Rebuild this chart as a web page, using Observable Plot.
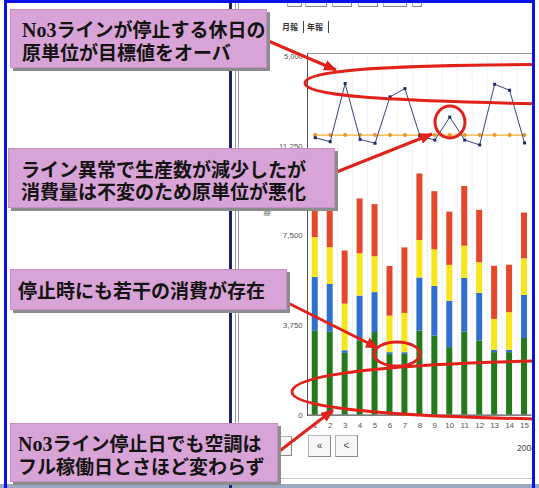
<!DOCTYPE html>
<html><head><meta charset="utf-8">
<script src="https://cdn.jsdelivr.net/npm/d3@7"></script>
<script src="https://cdn.jsdelivr.net/npm/@observablehq/plot@0.6"></script>
<style>
html,body{margin:0;padding:0;background:#fff;}
#page{position:relative;width:539px;height:488px;overflow:hidden;background:#fff;font-family:"Liberation Sans",Arial,sans-serif;}
#panel{position:absolute;left:240px;top:0;width:292px;height:488px;overflow:hidden;background:#fff;}
#panel svg{position:absolute;left:0;top:0;}
.callout{position:absolute;background:#d8a3d6;box-shadow:3px 3px 0 #8c8c8c;color:#141414;font-family:"Noto Sans CJK JP",sans-serif;font-weight:700;font-size:19px;line-height:22px;white-space:nowrap;box-sizing:border-box;border:1px solid #c48fc2;}
.callout .en{font-family:"Liberation Serif",serif;font-weight:700;font-size:20px;}
.btn{position:absolute;border:1px solid #b5b5b5;border-right-color:#888;border-bottom-color:#888;background:#f7f7f7;box-sizing:border-box;font-size:10px;color:#444;text-align:center;}
</style></head>
<body><div id="page">
<div id="panel"></div>
</div>
<script>
// ---- data ----
const days = [1,2,3,4,5,6,7,8,9,10,11,12,13,14,15];
const seriesNames = ["空調","No3ライン","No2ライン","No1ライン"];
const seriesColors = ["#237a1d","#2f6fce","#f6e61b","#e5472a"];
const greenVals  = [3500,3460,2580,3100,3450,2540,2540,3510,3300,2820,3470,3100,2610,2610,3200];
const blueVals   = [2250,2000, 110,1875,1670,  70,  70,2220,2080,1940,2240,1990, 100, 100,1800];
const yellowVals = [1670,1540,1950,1770,1500,1525,1640,1570,1530,1500,1350,1280,1290,1570,1530];
const redVals    = [1900,2000,2220,2290,2180,2080,2740,2780,2430,2225,2500,2190,2220,1985,1920];
const unitVals   = [460,240,3480,370,150,2740,3200,560,330,1610,330,60,3440,3110,170];
const targetVals = [610,610,610,610,610,610,610,610,610,610,610,610,610,610,610];
const barTicks = [0,3750,7500,11250];
const lineTicks = [5000];
const tabLabels = ["月報","年報"];
const yTitle = "電力(kWh)";
const dateLabel = "2008年1月";

const seriesValues = [greenVals, blueVals, yellowVals, redVals];
const rows = days.flatMap((d,i)=>seriesNames.map((s,k)=>({day:d, series:s, value:seriesValues[k][i]})));
const unitRows = days.map((d,i)=>({day:d, v:unitVals[i]}));
const targetRows = days.map((d,i)=>({day:d, v:targetVals[i]}));

const panel = document.getElementById("panel");
const page = document.getElementById("page");
const baseStyle = {background:"transparent", fontFamily:"Liberation Sans, Arial, sans-serif", fontSize:"7.5px", color:"#555", overflow:"visible"};

// bar chart
const barPlot = Plot.plot({
  width:293, height:440, marginLeft:67.5, marginRight:0.5, marginTop:146, marginBottom:24,
  style:{...baseStyle, fontSize:"8px"},
  x:{type:"band", domain:days, paddingInner:0.6, paddingOuter:0.3, tickSize:0, tickPadding:7, label:null},
  y:{domain:[0,11250], ticks:barTicks, tickSize:0, tickPadding:5, label:null},
  color:{domain:seriesNames, range:seriesColors},
  marks:[
    Plot.ruleX(days, {dx:7.5, stroke:"#e2e2e2", strokeDasharray:"1,1"}),
    Plot.barY(rows, {x:"day", y:"value", fill:"series"}),
    Plot.ruleY([0], {stroke:"#555", strokeWidth:1.2})
  ]
});
panel.appendChild(barPlot);

// line chart
const linePlot = Plot.plot({
  width:293, height:150, marginLeft:67.5, marginRight:0.5, marginTop:56, marginBottom:4,
  style:baseStyle,
  x:{type:"point", domain:days, padding:0.5, axis:null},
  y:{domain:[0,5000], ticks:lineTicks, tickSize:0, tickPadding:5, label:null},
  marks:[
    Plot.ruleX(days, {dx:7.5, stroke:"#e6e6e6", strokeDasharray:"1,1"}),
    Plot.line(targetRows, {x:"day", y:"v", stroke:"#f2b134", strokeWidth:1.3}),
    Plot.dot(targetRows, {x:"day", y:"v", fill:"#e8962a", r:2}),
    Plot.line(unitRows, {x:"day", y:"v", stroke:"#34447e", strokeWidth:1}),
    Plot.dot(unitRows, {x:"day", y:"v", fill:"#1c2a66", symbol:"square", r:1.7})
  ]
});
panel.appendChild(linePlot);

function el(parent, cls, css, html){
  const e=document.createElement("div"); if(cls) e.className=cls;
  e.style.cssText="position:absolute;"+css; if(html!=null) e.innerHTML=html; parent.appendChild(e); return e;
}
// panel decorations (coords relative to panel, x offset 240)
el(panel,"","left:67px;top:53px;width:225px;height:1px;background:#9a9a9a;");
el(panel,"","left:67px;top:53px;width:1px;height:363px;background:#555;");
[[47,15],[65,22],[92,20],[118,20],[143,24],[172,10]].forEach(([l,w])=>el(panel,"btn",`left:${l}px;top:-3px;width:${w}px;height:10px;`));
el(panel,"",`left:42px;top:21px;font:bold 8px 'Noto Sans CJK JP',sans-serif;color:#333;`,tabLabels[0]);
el(panel,"","left:63px;top:21px;width:1px;height:12px;background:#444;");
el(panel,"",`left:67px;top:21px;font:bold 8px 'Noto Sans CJK JP',sans-serif;color:#333;`,tabLabels[1]);
el(panel,"","left:88px;top:21px;width:1px;height:12px;background:#444;");
el(panel,"",`left:14px;top:200px;width:24px;text-align:center;transform:rotate(-90deg);font:6px 'Noto Sans CJK JP',sans-serif;color:#555;white-space:nowrap;`,yTitle);
el(panel,"btn","left:36px;top:436px;width:16px;height:20px;line-height:18px;","");
el(panel,"btn","left:68px;top:435px;width:23px;height:22px;line-height:20px;","&laquo;");
el(panel,"btn","left:95px;top:435px;width:23px;height:22px;line-height:20px;","&lt;");
el(panel,"",`left:277px;top:443px;font:8.5px 'Liberation Sans',sans-serif;color:#444;white-space:nowrap;`,dateLabel);
el(panel,"","left:0;top:478px;width:292px;height:1px;background:#c8c8c8;");

// red annotations
const NS="http://www.w3.org/2000/svg";
const ov=document.createElementNS(NS,"svg");
ov.setAttribute("width",535); ov.setAttribute("height",488);
ov.style.cssText="position:absolute;left:0;top:0;overflow:hidden;";
ov.innerHTML=`<defs><marker id="ah" markerUnits="userSpaceOnUse" markerWidth="14" markerHeight="11" refX="12" refY="5.5" orient="auto"><path d="M0,0 L13,5.5 L0,11 Z" fill="#e1221b"/></marker></defs>
<g fill="none" stroke="#e1221b" stroke-width="3">
<path d="M540,64.5 C420,65 305,68 305,83 C305,98 420,101 540,104"/>
<ellipse cx="450" cy="122" rx="15" ry="16"/>
<ellipse cx="397" cy="354" rx="23" ry="12"/>
<path d="M540,361 C420,363 292,372 292,392 C292,410 420,417 540,419"/>
<line x1="266" y1="40" x2="336" y2="70" marker-end="url(#ah)"/>
<line x1="334" y1="173" x2="432" y2="134" marker-end="url(#ah)"/>
<line x1="286" y1="302" x2="378" y2="348" marker-end="url(#ah)"/>
<line x1="277" y1="453" x2="333" y2="410" marker-end="url(#ah)"/>
</g>`;
page.appendChild(ov);

// frame decorations (above annotations)
el(page,"","left:0;top:484px;width:539px;height:4px;background:#9aa8c6;");
el(page,"","left:229px;top:0;width:3px;height:488px;background:#1d2466;");
el(page,"","left:235px;top:0;width:1px;height:488px;background:#9a9a9a;");
el(page,"","left:238px;top:0;width:1px;height:488px;background:#9a9a9a;");
el(page,"","left:4px;top:0;width:531px;height:3px;background:#0b12e6;");
el(page,"","left:4px;top:0;width:3px;height:488px;background:#0b12e6;");
el(page,"","left:532px;top:0;width:3px;height:488px;background:#0b12e6;");

// callouts
el(page,"callout","left:10px;top:9px;width:257px;height:59px;padding:8px 0 0 11px;",
  '<span class="en">No3</span>ラインが停止する休日の<br>原単位が目標値をオーバ');
el(page,"callout","left:8px;top:148px;width:327px;height:60px;padding:9px 0 0 12px;",
  'ライン異常で生産数が減少したが<br>消費量は不変のため原単位が悪化');
el(page,"callout","left:10px;top:269px;width:277px;height:41px;padding:9px 0 0 7px;",
  '停止時にも若干の消費が存在');
el(page,"callout","left:10px;top:423px;width:268px;height:59px;padding:8px 0 0 7px;",
  '<span class="en">No3</span>ライン停止日でも空調は<br>フル稼働日とさほど変わらず');
</script>
</body></html>
